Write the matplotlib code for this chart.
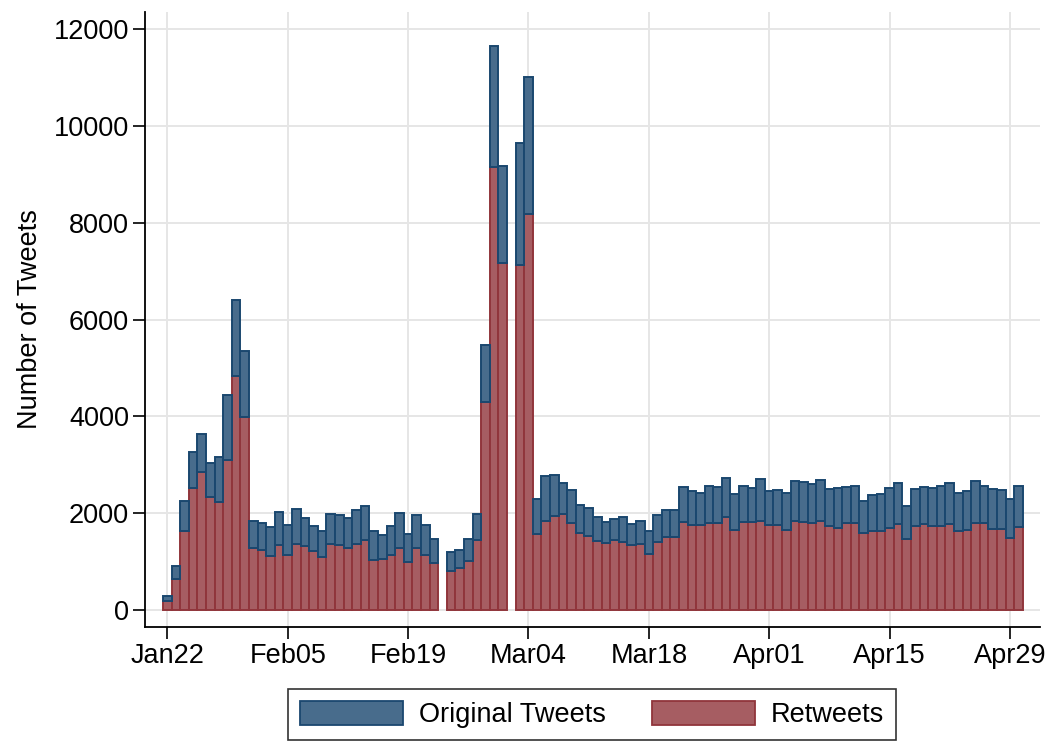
import matplotlib
matplotlib.use("Agg")
import matplotlib.pyplot as plt
import matplotlib.dates as mdates
import matplotlib.patches as mpatches
import numpy as np
import pandas as pd

plt.rcParams["font.family"] = ["Liberation Sans", "DejaVu Sans"]

# days with data (Feb 23 and Mar 02 are missing)
all_days = pd.date_range("2020-01-22", "2020-04-30", freq="D")
missing_days = pd.to_datetime(["2020-02-23", "2020-03-02"])
days = all_days.drop(missing_days)

# total tweets per day (top of stacked bar)
total_tweets = [
    290, 917, 2262, 3262, 3628, 3048, 3172, 4448, 6400, 5359,
    1848, 1793, 1717, 2028, 1766, 2090, 1903, 1738, 1634, 1986,
    1966, 1903, 2069, 2159, 1634, 1552, 1738, 2007, 1572, 1966,
    1759, 1476,
    1202, 1249, 1478, 1976, 5486, 11660, 9178,
    9652, 11020, 2284, 2761, 2782, 2630, 2471, 2166, 2118, 1917,
    1820, 1875, 1917, 1785, 1848, 1640, 1972, 2069, 2076, 2533,
    2450, 2422, 2567, 2533, 2720, 2388, 2567, 2526, 2699,
    2464, 2471, 2408, 2657, 2637, 2609, 2678, 2491, 2519, 2533,
    2554, 2249, 2374, 2401, 2519, 2630, 2145, 2498, 2540, 2519,
    2561, 2616, 2408, 2450, 2671, 2561, 2491, 2471, 2304, 2554,
]

retweets = [
    193, 641, 1641, 2524, 2848, 2331, 2234, 3110, 4841, 3979,
    1290, 1248, 1124, 1352, 1145, 1372, 1331, 1221, 1103, 1372,
    1352, 1290, 1372, 1455, 1041, 1062, 1145, 1290, 993, 1290,
    1145, 979,
    806, 870, 1020, 1455, 4292, 9162, 7162,
    7138, 8190, 1571, 1848, 1938, 1979, 1792, 1592, 1522, 1433,
    1384, 1453, 1398, 1336, 1363, 1156, 1405, 1502, 1502, 1827,
    1751, 1751, 1806, 1806, 1917, 1661, 1827, 1827, 1848,
    1758, 1751, 1647, 1848, 1827, 1792, 1848, 1730, 1702, 1806,
    1806, 1585, 1626, 1626, 1702, 1785, 1460, 1737, 1785, 1730,
    1737, 1772, 1633, 1661, 1792, 1792, 1675, 1682, 1495, 1716,
]

original_tweets = np.array(total_tweets) - np.array(retweets)

y_ticks = [0, 2000, 4000, 6000, 8000, 10000, 12000]
x_ticks = pd.date_range("2020-01-22", "2020-04-29", freq="14D")

navy_edge = "#1a476f"
navy_fill = "#486c8c"
maroon_edge = "#90353b"
maroon_fill = "#a65d62"

fig = plt.figure(figsize=(10.5, 7.48), dpi=100, facecolor="white")
ax = fig.add_axes([145 / 1050, 1 - 627 / 748, (1040 - 145) / 1050, (627 - 12) / 748])

ax.bar(days, retweets, width=1.0, color=maroon_fill, edgecolor=maroon_edge,
       linewidth=1.4, zorder=3)
ax.bar(days, original_tweets, bottom=retweets, width=1.0, color=navy_fill,
       edgecolor=navy_edge, linewidth=1.4, zorder=3)

ax.set_xlim(pd.Timestamp("2020-01-22") - pd.Timedelta(days=2.6),
            pd.Timestamp("2020-04-29") + pd.Timedelta(days=3.5))
ax.set_ylim(-350, 12355)

ax.set_yticks(y_ticks)
ax.set_xticks(x_ticks)
ax.xaxis.set_major_formatter(mdates.DateFormatter("%b%d"))

ax.grid(True, color="#e6e6e6", linewidth=1.4, zorder=0)
ax.set_axisbelow(True)

for side in ["top", "right"]:
    ax.spines[side].set_visible(False)
for side in ["left", "bottom"]:
    ax.spines[side].set_linewidth(1.3)
    ax.spines[side].set_color("black")

ax.tick_params(axis="both", direction="out", length=8.5, width=1.2,
               labelsize=19.5, colors="black", pad=3)
ax.set_ylabel("Number of Tweets", fontsize=19.5, labelpad=8)

handles = [
    mpatches.Patch(facecolor=navy_fill, edgecolor=navy_edge, linewidth=1.3, label="Original Tweets"),
    mpatches.Patch(facecolor=maroon_fill, edgecolor=maroon_edge, linewidth=1.3, label="Retweets"),
]
leg = fig.legend(handles=handles, loc="center", bbox_to_anchor=(592 / 1050, 1 - 714.5 / 748),
                 ncol=2, fontsize=19.5, frameon=True, fancybox=False, edgecolor="black",
                 handlelength=3.8, handleheight=1.0, handletextpad=0.6,
                 columnspacing=1.7, borderpad=0.45, borderaxespad=0)
leg.get_frame().set_linewidth(1.2)

fig.savefig("out.png", dpi=100, facecolor="white")
